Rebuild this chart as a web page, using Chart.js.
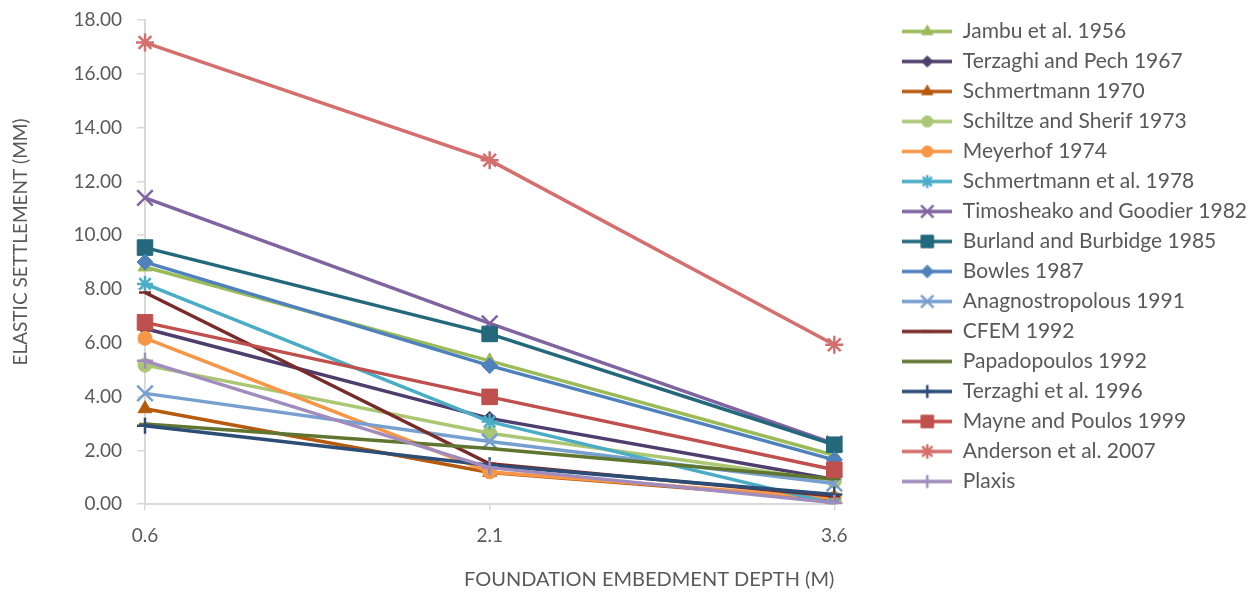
<!DOCTYPE html>
<html>
<head>
<meta charset="utf-8">
<title>Elastic settlement vs foundation embedment depth</title>
<script src="https://cdn.jsdelivr.net/npm/chart.js"></script>
<style>
  html, body { margin: 0; padding: 0; background: #ffffff; }
  #wrap { position: relative; width: 1257px; height: 592px; }
</style>
</head>
<body>
<div id="wrap"><canvas id="chart" width="1257" height="592"></canvas></div>
<script>
// Embedment depths (m)
const depths = ['0.6', '2.1', '3.6'];
const yTicks = [0, 2, 4, 6, 8, 10, 12, 14, 16, 18];

// Elastic settlement (mm) at each depth, one array per method
const jambu1956 = [8.82, 5.33, 1.82];
const terzaghiPech1967 = [6.53, 3.19, 0.92];
const schmertmann1970 = [3.55, 1.18, 0.17];
const schiltzeSherif1973 = [5.17, 2.64, 0.86];
const meyerhof1974 = [6.17, 1.20, 0.22];
const schmertmann1978 = [8.19, 3.07, 0.02];
const timoshenko1982 = [11.39, 6.72, 2.25];
const burland1985 = [9.54, 6.33, 2.21];
const bowles1987 = [9.00, 5.15, 1.65];
const anagnostropolous1991 = [4.12, 2.33, 0.77];
const cfem1992 = [7.87, 1.50, 0.30];
const papadopoulos1992 = [2.98, 2.07, 0.94];
const terzaghi1996 = [2.92, 1.45, 0.36];
const mayne1999 = [6.76, 3.99, 1.28];
const anderson2007 = [17.16, 12.79, 5.93];
const plaxis = [5.33, 1.36, 0.05];

const seriesNames = [
  'Jambu et al. 1956', 'Terzaghi and Pech 1967', 'Schmertmann 1970',
  'Schiltze and Sherif 1973', 'Meyerhof 1974', 'Schmertmann et al. 1978',
  'Timosheako and Goodier 1982', 'Burland and Burbidge 1985', 'Bowles 1987',
  'Anagnostropolous 1991', 'CFEM 1992', 'Papadopoulos 1992',
  'Terzaghi et al. 1996', 'Mayne and Poulos 1999', 'Anderson et al. 2007', 'Plaxis'
];
const seriesValues = [
  jambu1956, terzaghiPech1967, schmertmann1970, schiltzeSherif1973, meyerhof1974,
  schmertmann1978, timoshenko1982, burland1985, bowles1987, anagnostropolous1991,
  cfem1992, papadopoulos1992, terzaghi1996, mayne1999, anderson2007, plaxis
];

const xTitle = 'FOUNDATION EMBEDMENT DEPTH (M)';
const yTitle = 'ELASTIC SETTLEMENT (MM)';

// Line colour, marker shape and marker radius for each method
const seriesStyles = [
  { color: '#9bbb59', marker: 'triangle', r: 8 },
  { color: '#4e3d6d', marker: 'rectRot', r: 7 },
  { color: '#b65a0d', marker: 'triangle', r: 8 },
  { color: '#abc774', marker: 'circle', r: 7 },
  { color: '#f79646', marker: 'circle', r: 7 },
  { color: '#4bacc6', marker: 'star', r: 8 },
  { color: '#8064a2', marker: 'crossRot', r: 11 },
  { color: '#23687b', marker: 'rect', r: 11 },
  { color: '#4f81bd', marker: 'rectRot', r: 8 },
  { color: '#779fcf', marker: 'crossRot', r: 11 },
  { color: '#772c2a', marker: 'line', r: 6 },
  { color: '#5f7530', marker: 'line', r: 6 },
  { color: '#2c4d75', marker: 'cross', r: 8 },
  { color: '#c0504d', marker: 'rect', r: 11 },
  { color: '#d46f6d', marker: 'star', r: 9 },
  { color: '#a08cbd', marker: 'cross', r: 8 }
];

const FONT = 'Lato, "Open Sans", sans-serif';
const TEXT = '#595959';
const AXIS = '#d9d9d9';

function markerWidth(style) {
  return (style === 'cross' || style === 'crossRot' || style === 'star' || style === 'line') ? 2.5 : 1;
}

// Small canvas with a line segment and the marker, used as the legend symbol
function legendSymbol(st) {
  const c = document.createElement('canvas');
  c.width = 50; c.height = 22;
  const g = c.getContext('2d');
  g.strokeStyle = st.color;
  g.fillStyle = st.color;
  g.lineWidth = 3.5;
  g.beginPath(); g.moveTo(0, 11); g.lineTo(50, 11); g.stroke();
  g.lineWidth = markerWidth(st.marker);
  const r = st.marker === 'line' ? 5 : st.r * 0.8;
  Chart.helpers.drawPoint(g, { pointStyle: st.marker, radius: r, borderWidth: g.lineWidth, rotation: 0 }, 25, 11);
  return c;
}

const N = seriesValues.length;
const datasets = seriesValues.map((vals, i) => {
  const st = seriesStyles[i];
  return {
    label: seriesNames[i],
    data: vals,
    yAxisID: 'y',
    borderColor: st.color,
    backgroundColor: st.color,
    borderWidth: 3.5,
    pointStyle: st.marker,
    pointRadius: st.r,
    pointHoverRadius: st.r,
    pointBackgroundColor: st.color,
    pointBorderColor: st.color,
    pointBorderWidth: markerWidth(st.marker),
    tension: 0,
    order: N - i
  };
});

const symbols = seriesStyles.map(legendSymbol);

// Rotated title of the value axis, centred on the band of the axis labels
const yTitlePlugin = {
  id: 'yTitle',
  afterDraw(chart) {
    const ctx = chart.ctx;
    ctx.save();
    ctx.translate(21, 242);
    ctx.rotate(-Math.PI / 2);
    ctx.font = '19px ' + FONT;
    ctx.fillStyle = TEXT;
    ctx.textAlign = 'center';
    ctx.textBaseline = 'middle';
    ctx.fillText(yTitle, 0, 0);
    ctx.restore();
  }
};

new Chart(document.getElementById('chart'), {
  type: 'line',
  data: { labels: depths, datasets: datasets },
  plugins: [yTitlePlugin],
  options: {
    responsive: false,
    animation: false,
    events: [],
    layout: { padding: { left: 12, top: 12, right: 0, bottom: 0 } },
    plugins: {
      tooltip: { enabled: false },
      legend: {
        position: 'right',
        align: 'start',
        maxWidth: 420,
        labels: {
          usePointStyle: true,
          pointStyleWidth: 50,
          padding: 9,
          color: TEXT,
          font: { family: FONT, size: 21 },
          sort: (a, b) => a.datasetIndex - b.datasetIndex,
          generateLabels: (chart) => {
            const items = Chart.defaults.plugins.legend.labels.generateLabels(chart);
            items.forEach(it => { it.pointStyle = symbols[it.datasetIndex]; it.rotation = 0; });
            return items;
          }
        }
      }
    },
    scales: {
      x: {
        type: 'category',
        offset: false,
        grid: { drawOnChartArea: false, drawTicks: true, tickLength: 6, color: AXIS, lineWidth: 1.5 },
        border: { color: AXIS, width: 2 },
        ticks: { color: TEXT, font: { family: FONT, size: 19 }, padding: 14, maxRotation: 0 },
        title: {
          display: true,
          text: xTitle,
          align: 'end',
          color: TEXT,
          font: { family: FONT, size: 20 },
          padding: { top: 7, bottom: 0 }
        }
      },
      y: {
        min: 0,
        max: 18,
        afterBuildTicks: (scale) => { scale.ticks = yTicks.map(v => ({ value: v })); },
        grid: { drawOnChartArea: false, drawTicks: true, tickLength: 8, color: AXIS, lineWidth: 1.5 },
        border: { color: AXIS, width: 2 },
        ticks: {
          color: TEXT,
          font: { family: FONT, size: 19 },
          padding: 15,
          callback: (v) => Number(v).toFixed(2)
        },
        afterFit: (scale) => { scale.width = 133; scale.paddingTop = 20; }
      },
      // empty band between the plot and the legend
      gap: {
        type: 'linear',
        position: 'right',
        display: true,
        grid: { display: false, drawTicks: false },
        border: { display: false },
        ticks: { display: false },
        afterFit: (scale) => { scale.width = 59; }
      }
    }
  }
});
</script>
</body>
</html>
